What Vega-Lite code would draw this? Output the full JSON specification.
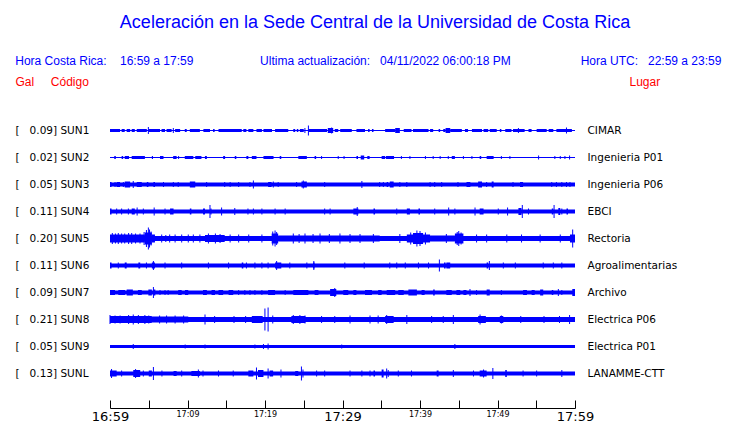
{
  "$schema": "https://vega.github.io/schema/vega-lite/v6.json",
  "width": 465,
  "height": 292,
  "autosize": "none",
  "padding": {"left": 110, "top": 116, "right": 165, "bottom": 15},
  "background": "white",
  "config": {"view": {"stroke": null}, "font": "Liberation Sans"},
  "title": {
    "text": "Aceleración en la Sede Central de la Universidad de Costa Rica",
    "subtitle": "Hora Costa Rica:\u00a0\u00a0\u00a0\u00a016:59 a 17:59\u00a0\u00a0\u00a0\u00a0\u00a0\u00a0\u00a0\u00a0\u00a0\u00a0\u00a0\u00a0\u00a0\u00a0\u00a0\u00a0\u00a0\u00a0\u00a0\u00a0Ultima actualización:\u00a0\u00a0\u00a004/11/2022 06:00:18 PM\u00a0\u00a0\u00a0\u00a0\u00a0\u00a0\u00a0\u00a0\u00a0\u00a0\u00a0\u00a0\u00a0\u00a0\u00a0\u00a0\u00a0\u00a0\u00a0\u00a0\u00a0Hora UTC:\u00a0\u00a0\u00a022:59 a 23:59\u00a0\u00a0\u00a0\u00a0\u200b",
    "anchor": "middle",
    "frame": "group",
    "dx": 32.5,
    "font": "Liberation Sans",
    "fontSize": 18,
    "fontWeight": "normal",
    "color": "#0000ff",
    "subtitleFont": "Liberation Sans",
    "subtitleFontSize": 12,
    "subtitleColor": "#0000ff",
    "subtitlePadding": 24,
    "offset": 8
  },
  "datasets": {
    "st": [
      {"s": "SUN1", "gal": 0.09, "label": "[\u00a0\u00a0\u00a00.09]\u00a0SUN1", "lugar": "CIMAR"},
      {"s": "SUN2", "gal": 0.02, "label": "[\u00a0\u00a0\u00a00.02]\u00a0SUN2", "lugar": "Ingenieria P01"},
      {"s": "SUN3", "gal": 0.05, "label": "[\u00a0\u00a0\u00a00.05]\u00a0SUN3", "lugar": "Ingenieria P06"},
      {"s": "SUN4", "gal": 0.11, "label": "[\u00a0\u00a0\u00a00.11]\u00a0SUN4", "lugar": "EBCI"},
      {"s": "SUN5", "gal": 0.20, "label": "[\u00a0\u00a0\u00a00.20]\u00a0SUN5", "lugar": "Rectoria"},
      {"s": "SUN6", "gal": 0.11, "label": "[\u00a0\u00a0\u00a00.11]\u00a0SUN6", "lugar": "Agroalimentarias"},
      {"s": "SUN7", "gal": 0.09, "label": "[\u00a0\u00a0\u00a00.09]\u00a0SUN7", "lugar": "Archivo"},
      {"s": "SUN8", "gal": 0.21, "label": "[\u00a0\u00a0\u00a00.21]\u00a0SUN8", "lugar": "Electrica P06"},
      {"s": "SUN9", "gal": 0.05, "label": "[\u00a0\u00a0\u00a00.05]\u00a0SUN9", "lugar": "Electrica P01"},
      {"s": "SUNL", "gal": 0.13, "label": "[\u00a0\u00a0\u00a00.13]\u00a0SUNL", "lugar": "LANAMME-CTT"}
    ],
    "seg": [
      {"s":"SUN1","a":0,"b":60,"h":1},
      {"s":"SUN1","a":0,"b":1.3,"h":3},{"s":"SUN1","a":1.5,"b":1.9,"h":3},{"s":"SUN1","a":2.15,"b":2.6,"h":3},{"s":"SUN1","a":2.8,"b":3.2,"h":3},{"s":"SUN1","a":3.45,"b":4.75,"h":3},{"s":"SUN1","a":4.95,"b":6.45,"h":3},{"s":"SUN1","a":6.65,"b":7.1,"h":3},{"s":"SUN1","a":7.3,"b":7.95,"h":3},{"s":"SUN1","a":8.4,"b":9.05,"h":3},{"s":"SUN1","a":9.65,"b":9.9,"h":3},{"s":"SUN1","a":10.3,"b":11.6,"h":3},{"s":"SUN1","a":12.05,"b":12.9,"h":3},{"s":"SUN1","a":13.3,"b":13.5,"h":3},{"s":"SUN1","a":14.0,"b":17.0,"h":3},{"s":"SUN1","a":17.2,"b":17.6,"h":3},{"s":"SUN1","a":17.85,"b":18.5,"h":3},{"s":"SUN1","a":18.9,"b":19.6,"h":3},{"s":"SUN1","a":19.8,"b":20.9,"h":3},{"s":"SUN1","a":21.3,"b":23.0,"h":3},{"s":"SUN1","a":23.65,"b":23.9,"h":3},{"s":"SUN1","a":24.1,"b":24.3,"h":3},{"s":"SUN1","a":24.5,"b":25.0,"h":3},{"s":"SUN1","a":25.6,"b":28.0,"h":3},{"s":"SUN1","a":28.1,"b":28.8,"h":5},{"s":"SUN1","a":29.0,"b":29.45,"h":3},{"s":"SUN1","a":29.7,"b":31.2,"h":3},{"s":"SUN1","a":31.8,"b":32.9,"h":3},{"s":"SUN1","a":33.3,"b":33.5,"h":3},{"s":"SUN1","a":33.8,"b":34.0,"h":3},{"s":"SUN1","a":35.5,"b":36.8,"h":3},{"s":"SUN1","a":36.8,"b":37.4,"h":5},{"s":"SUN1","a":37.9,"b":38.9,"h":3},{"s":"SUN1","a":39.1,"b":41.1,"h":3},{"s":"SUN1","a":41.3,"b":41.7,"h":3},{"s":"SUN1","a":42.4,"b":42.6,"h":3},{"s":"SUN1","a":43.0,"b":43.3,"h":3},{"s":"SUN1","a":43.3,"b":43.9,"h":5},{"s":"SUN1","a":43.9,"b":45.4,"h":3},{"s":"SUN1","a":45.8,"b":46.2,"h":3},{"s":"SUN1","a":46.7,"b":48.0,"h":3},{"s":"SUN1","a":48.2,"b":48.8,"h":3},{"s":"SUN1","a":49.0,"b":49.9,"h":3},{"s":"SUN1","a":50.3,"b":50.5,"h":3},{"s":"SUN1","a":51.0,"b":51.8,"h":3},{"s":"SUN1","a":52.0,"b":53.5,"h":3},{"s":"SUN1","a":54.0,"b":54.4,"h":3},{"s":"SUN1","a":55.05,"b":56.35,"h":3},{"s":"SUN1","a":56.6,"b":57.2,"h":3},{"s":"SUN1","a":57.6,"b":59.6,"h":3},
      {"s":"SUN2","a":0,"b":60,"h":1},
      {"s":"SUN2","a":0.55,"b":0.75,"h":3},{"s":"SUN2","a":1.5,"b":1.7,"h":3},{"s":"SUN2","a":1.9,"b":2.45,"h":3},{"s":"SUN2","a":2.8,"b":4.5,"h":3},{"s":"SUN2","a":5.4,"b":5.55,"h":3},{"s":"SUN2","a":6.45,"b":6.9,"h":3},{"s":"SUN2","a":8.15,"b":8.6,"h":3},{"s":"SUN2","a":9.65,"b":10.75,"h":3},{"s":"SUN2","a":11.0,"b":11.8,"h":3},{"s":"SUN2","a":12.25,"b":12.5,"h":3},{"s":"SUN2","a":14.6,"b":14.85,"h":3},{"s":"SUN2","a":16.1,"b":16.3,"h":3},{"s":"SUN2","a":17.6,"b":17.85,"h":3},{"s":"SUN2","a":18.3,"b":18.9,"h":3},{"s":"SUN2","a":19.8,"b":21.1,"h":3},{"s":"SUN2","a":21.9,"b":22.1,"h":3},{"s":"SUN2","a":24.3,"b":25.4,"h":3},{"s":"SUN2","a":26.4,"b":26.6,"h":3},{"s":"SUN2","a":31.8,"b":32.0,"h":3},{"s":"SUN2","a":32.35,"b":32.8,"h":4},{"s":"SUN2","a":33.2,"b":33.5,"h":3},{"s":"SUN2","a":35.05,"b":35.5,"h":3},{"s":"SUN2","a":35.6,"b":36.65,"h":3},{"s":"SUN2","a":44.1,"b":44.5,"h":3},{"s":"SUN2","a":47.7,"b":47.9,"h":3},{"s":"SUN2","a":48.6,"b":49.5,"h":3},
      {"s":"SUN3","a":0,"b":60,"h":4},
      {"s":"SUN3","a":0,"b":0.2,"h":5},{"s":"SUN3","a":0.85,"b":1.3,"h":5},{"s":"SUN3","a":1.9,"b":2.6,"h":6},{"s":"SUN3","a":3.45,"b":4.1,"h":5},{"s":"SUN3","a":4.75,"b":4.95,"h":5},{"s":"SUN3","a":5.6,"b":5.8,"h":5},{"s":"SUN3","a":10.3,"b":11.0,"h":6},{"s":"SUN3","a":20.4,"b":20.85,"h":5},{"s":"SUN3","a":24.7,"b":25.4,"h":6},{"s":"SUN3","a":35.7,"b":35.9,"h":5},{"s":"SUN3","a":36.1,"b":36.6,"h":6},{"s":"SUN3","a":46.0,"b":46.5,"h":5},{"s":"SUN3","a":47.5,"b":48.0,"h":6},{"s":"SUN3","a":49.25,"b":49.5,"h":6},{"s":"SUN3","a":52.9,"b":53.3,"h":5},
      {"s":"SUN4","a":0,"b":60,"h":4},
      {"s":"SUN4","a":0,"b":0.2,"h":6},{"s":"SUN4","a":2.8,"b":3.2,"h":6},{"s":"SUN4","a":7.75,"b":8.2,"h":6},{"s":"SUN4","a":10.3,"b":10.5,"h":6},{"s":"SUN4","a":12.0,"b":12.26,"h":6},{"s":"SUN4","a":12.95,"b":13.1,"h":6},{"s":"SUN4","a":31.4,"b":32.05,"h":6},{"s":"SUN4","a":34.0,"b":34.2,"h":6},{"s":"SUN4","a":38.3,"b":38.7,"h":6},{"s":"SUN4","a":39.8,"b":40.0,"h":6},{"s":"SUN4","a":47.7,"b":48.2,"h":6},{"s":"SUN4","a":52.7,"b":53.1,"h":7},{"s":"SUN4","a":57.0,"b":57.2,"h":6},{"s":"SUN4","a":57.85,"b":58.1,"h":7},{"s":"SUN4","a":58.9,"b":59.1,"h":6},
      {"s":"SUN5","a":0,"b":60,"h":5},
      {"s":"SUN5","a":0,"b":4.5,"h":8},{"s":"SUN5","a":4.5,"b":5.4,"h":12},{"s":"SUN5","a":5.4,"b":5.8,"h":8},{"s":"SUN5","a":12.26,"b":14.8,"h":7},{"s":"SUN5","a":20.86,"b":21.7,"h":10},{"s":"SUN5","a":21.7,"b":34.8,"h":6},{"s":"SUN5","a":38.3,"b":41.3,"h":8},{"s":"SUN5","a":39.1,"b":40.4,"h":11},{"s":"SUN5","a":41.3,"b":44.5,"h":6},{"s":"SUN5","a":44.5,"b":45.6,"h":10},{"s":"SUN5","a":59.35,"b":60,"h":8},
      {"s":"SUN6","a":0,"b":60,"h":4},
      {"s":"SUN6","a":0,"b":0.2,"h":6},{"s":"SUN6","a":1.9,"b":2.15,"h":6},{"s":"SUN6","a":3.66,"b":3.9,"h":6},{"s":"SUN6","a":5.4,"b":5.8,"h":6},{"s":"SUN6","a":17.0,"b":17.2,"h":6},{"s":"SUN6","a":21.3,"b":22.1,"h":6},{"s":"SUN6","a":26.2,"b":26.4,"h":6},{"s":"SUN6","a":43.1,"b":43.3,"h":6},{"s":"SUN6","a":43.4,"b":43.9,"h":6},{"s":"SUN6","a":48.6,"b":48.8,"h":6},
      {"s":"SUN7","a":0,"b":60,"h":4},
      {"s":"SUN7","a":0,"b":0.65,"h":5},{"s":"SUN7","a":1.07,"b":1.95,"h":5},{"s":"SUN7","a":2.15,"b":2.95,"h":6},{"s":"SUN7","a":3.6,"b":4.1,"h":5},{"s":"SUN7","a":4.95,"b":5.4,"h":6},{"s":"SUN7","a":5.6,"b":5.85,"h":6},{"s":"SUN7","a":8.8,"b":9.25,"h":5},{"s":"SUN7","a":9.67,"b":10.1,"h":5},{"s":"SUN7","a":12.0,"b":12.5,"h":5},{"s":"SUN7","a":13.1,"b":13.55,"h":5},{"s":"SUN7","a":14.0,"b":14.6,"h":5},{"s":"SUN7","a":15.3,"b":15.9,"h":5},{"s":"SUN7","a":20.4,"b":21.3,"h":5},{"s":"SUN7","a":23.65,"b":25.6,"h":5},{"s":"SUN7","a":26.4,"b":26.9,"h":5},{"s":"SUN7","a":28.4,"b":29.2,"h":7},{"s":"SUN7","a":30.1,"b":30.75,"h":5},{"s":"SUN7","a":31.4,"b":31.8,"h":5},{"s":"SUN7","a":32.9,"b":33.8,"h":5},{"s":"SUN7","a":34.6,"b":35.05,"h":5},{"s":"SUN7","a":35.7,"b":36.8,"h":5},{"s":"SUN7","a":37.2,"b":37.9,"h":5},{"s":"SUN7","a":38.5,"b":39.6,"h":6},{"s":"SUN7","a":40.2,"b":40.6,"h":5},{"s":"SUN7","a":41.7,"b":41.9,"h":6},{"s":"SUN7","a":43.4,"b":44.1,"h":5},{"s":"SUN7","a":44.7,"b":45.2,"h":5},{"s":"SUN7","a":45.6,"b":46.0,"h":5},{"s":"SUN7","a":48.6,"b":49.0,"h":6},{"s":"SUN7","a":53.3,"b":53.8,"h":5},{"s":"SUN7","a":54.4,"b":54.8,"h":5},{"s":"SUN7","a":55.5,"b":55.9,"h":6},{"s":"SUN7","a":57.0,"b":57.2,"h":5},{"s":"SUN7","a":59.65,"b":60,"h":7},
      {"s":"SUN8","a":0,"b":60,"h":5},
      {"s":"SUN8","a":0,"b":5.4,"h":7},{"s":"SUN8","a":5.4,"b":10.1,"h":6},{"s":"SUN8","a":18.3,"b":19.7,"h":7},{"s":"SUN8","a":23.4,"b":25.2,"h":7},{"s":"SUN8","a":35.5,"b":36.6,"h":7},{"s":"SUN8","a":47.5,"b":48.5,"h":7},{"s":"SUN8","a":50.3,"b":50.75,"h":7},
      {"s":"SUN9","a":0,"b":60,"h":3},
      {"s":"SUNL","a":0,"b":60,"h":4},
      {"s":"SUNL","a":0,"b":0.86,"h":6},{"s":"SUNL","a":3.0,"b":3.9,"h":7},{"s":"SUNL","a":5.0,"b":5.4,"h":6},{"s":"SUNL","a":8.2,"b":8.6,"h":5},{"s":"SUNL","a":10.5,"b":11.6,"h":5},{"s":"SUNL","a":17.85,"b":18.5,"h":6},{"s":"SUNL","a":19.1,"b":19.8,"h":7},{"s":"SUNL","a":20.6,"b":21.05,"h":6},{"s":"SUNL","a":23.9,"b":24.3,"h":5},{"s":"SUNL","a":34.0,"b":34.2,"h":6},{"s":"SUNL","a":35.05,"b":35.3,"h":8},{"s":"SUNL","a":42.15,"b":42.4,"h":6},{"s":"SUNL","a":47.7,"b":48.6,"h":6},{"s":"SUNL","a":51.0,"b":51.2,"h":7}
    ],
    "spk": [
      {"s":"SUN1","t":4.95,"h":7},{"s":"SUN1","t":8.17,"h":5},{"s":"SUN1","t":25.15,"h":5},{"s":"SUN1","t":25.6,"h":10},{"s":"SUN1","t":28.6,"h":6},{"s":"SUN1","t":52.7,"h":5},{"s":"SUN1","t":58.9,"h":6},
      {"s":"SUN2","t":8.85,"h":3},{"s":"SUN2","t":27.3,"h":3},{"s":"SUN2","t":29.45,"h":3},{"s":"SUN2","t":30.2,"h":3},{"s":"SUN2","t":37.6,"h":3},{"s":"SUN2","t":38.7,"h":3},{"s":"SUN2","t":40.7,"h":3},{"s":"SUN2","t":41.7,"h":3},{"s":"SUN2","t":42.6,"h":3},{"s":"SUN2","t":43.65,"h":3},{"s":"SUN2","t":45.6,"h":3},{"s":"SUN2","t":46.7,"h":3},{"s":"SUN2","t":50.5,"h":3},{"s":"SUN2","t":51.6,"h":3},{"s":"SUN2","t":55.3,"h":4},{"s":"SUN2","t":57.4,"h":3},{"s":"SUN2","t":58.1,"h":3},{"s":"SUN2","t":58.7,"h":3},{"s":"SUN2","t":59.3,"h":4},
      {"s":"SUN3","t":0.65,"h":5},{"s":"SUN3","t":1.72,"h":5},{"s":"SUN3","t":3.0,"h":7},{"s":"SUN3","t":6.9,"h":5},{"s":"SUN3","t":8.17,"h":5},{"s":"SUN3","t":8.8,"h":5},{"s":"SUN3","t":12.47,"h":5},{"s":"SUN3","t":14.8,"h":5},{"s":"SUN3","t":15.5,"h":5},{"s":"SUN3","t":16.6,"h":5},{"s":"SUN3","t":18.06,"h":5},{"s":"SUN3","t":18.5,"h":8},{"s":"SUN3","t":21.07,"h":6},{"s":"SUN3","t":21.7,"h":5},{"s":"SUN3","t":24.08,"h":5},{"s":"SUN3","t":24.94,"h":8},{"s":"SUN3","t":27.7,"h":5},{"s":"SUN3","t":32.5,"h":7},{"s":"SUN3","t":34.8,"h":5},{"s":"SUN3","t":35.27,"h":5},{"s":"SUN3","t":37.4,"h":5},{"s":"SUN3","t":38.3,"h":5},{"s":"SUN3","t":41.3,"h":5},{"s":"SUN3","t":41.9,"h":5},{"s":"SUN3","t":42.8,"h":5},{"s":"SUN3","t":44.9,"h":5},{"s":"SUN3","t":48.6,"h":5},{"s":"SUN3","t":52.0,"h":5},{"s":"SUN3","t":57.0,"h":5},{"s":"SUN3","t":57.6,"h":5},{"s":"SUN3","t":58.3,"h":5},{"s":"SUN3","t":58.9,"h":5},{"s":"SUN3","t":59.35,"h":5},
      {"s":"SUN4","t":0.86,"h":6},{"s":"SUN4","t":1.5,"h":6},{"s":"SUN4","t":2.37,"h":6},{"s":"SUN4","t":3.5,"h":8},{"s":"SUN4","t":4.3,"h":6},{"s":"SUN4","t":5.7,"h":8},{"s":"SUN4","t":7.1,"h":6},{"s":"SUN4","t":12.9,"h":13},{"s":"SUN4","t":14.4,"h":8},{"s":"SUN4","t":16.1,"h":7},{"s":"SUN4","t":17.8,"h":6},{"s":"SUN4","t":18.5,"h":6},{"s":"SUN4","t":19.6,"h":6},{"s":"SUN4","t":21.3,"h":6},{"s":"SUN4","t":22.6,"h":6},{"s":"SUN4","t":27.7,"h":6},{"s":"SUN4","t":28.4,"h":6},{"s":"SUN4","t":31.9,"h":9},{"s":"SUN4","t":37.0,"h":6},{"s":"SUN4","t":41.9,"h":6},{"s":"SUN4","t":43.7,"h":8},{"s":"SUN4","t":44.5,"h":6},{"s":"SUN4","t":47.1,"h":8},{"s":"SUN4","t":50.1,"h":6},{"s":"SUN4","t":51.3,"h":8},{"s":"SUN4","t":53.2,"h":13},{"s":"SUN4","t":54.0,"h":6},{"s":"SUN4","t":57.3,"h":13},{"s":"SUN4","t":58.3,"h":6},
      {"s":"SUN5","t":0.3,"h":11},{"s":"SUN5","t":0.7,"h":10},{"s":"SUN5","t":1.07,"h":11},{"s":"SUN5","t":1.5,"h":10},{"s":"SUN5","t":1.9,"h":10},{"s":"SUN5","t":2.4,"h":11},{"s":"SUN5","t":2.8,"h":11},{"s":"SUN5","t":3.3,"h":10},{"s":"SUN5","t":3.87,"h":10},{"s":"SUN5","t":4.4,"h":13},{"s":"SUN5","t":4.7,"h":17},{"s":"SUN5","t":4.95,"h":22},{"s":"SUN5","t":5.1,"h":18},{"s":"SUN5","t":5.3,"h":14},{"s":"SUN5","t":6.67,"h":8},{"s":"SUN5","t":7.2,"h":7},{"s":"SUN5","t":7.7,"h":8},{"s":"SUN5","t":8.4,"h":8},{"s":"SUN5","t":9.25,"h":8},{"s":"SUN5","t":10.1,"h":8},{"s":"SUN5","t":10.75,"h":8},{"s":"SUN5","t":11.6,"h":8},{"s":"SUN5","t":12.7,"h":10},{"s":"SUN5","t":13.6,"h":10},{"s":"SUN5","t":14.2,"h":9},{"s":"SUN5","t":15.5,"h":8},{"s":"SUN5","t":16.6,"h":8},{"s":"SUN5","t":17.9,"h":8},{"s":"SUN5","t":19.6,"h":8},{"s":"SUN5","t":21.0,"h":14},{"s":"SUN5","t":21.3,"h":16},{"s":"SUN5","t":21.5,"h":13},{"s":"SUN5","t":23.65,"h":10},{"s":"SUN5","t":24.4,"h":9},{"s":"SUN5","t":25.16,"h":10},{"s":"SUN5","t":26.2,"h":9},{"s":"SUN5","t":27.1,"h":10},{"s":"SUN5","t":28.3,"h":9},{"s":"SUN5","t":29.67,"h":10},{"s":"SUN5","t":30.97,"h":9},{"s":"SUN5","t":32.26,"h":9},{"s":"SUN5","t":33.98,"h":9},{"s":"SUN5","t":37.4,"h":9},{"s":"SUN5","t":38.8,"h":12},{"s":"SUN5","t":39.6,"h":16},{"s":"SUN5","t":40.0,"h":15},{"s":"SUN5","t":40.7,"h":12},{"s":"SUN5","t":43.4,"h":9},{"s":"SUN5","t":44.8,"h":13},{"s":"SUN5","t":45.0,"h":15},{"s":"SUN5","t":45.3,"h":12},{"s":"SUN5","t":47.3,"h":8},{"s":"SUN5","t":48.6,"h":8},{"s":"SUN5","t":51.2,"h":8},{"s":"SUN5","t":53.1,"h":8},{"s":"SUN5","t":55.5,"h":8},{"s":"SUN5","t":58.1,"h":8},{"s":"SUN5","t":59.7,"h":18},
      {"s":"SUN6","t":1.07,"h":6},{"s":"SUN6","t":4.7,"h":6},{"s":"SUN6","t":5.6,"h":9},{"s":"SUN6","t":7.1,"h":6},{"s":"SUN6","t":9.25,"h":6},{"s":"SUN6","t":12.7,"h":6},{"s":"SUN6","t":15.3,"h":6},{"s":"SUN6","t":17.6,"h":6},{"s":"SUN6","t":18.7,"h":6},{"s":"SUN6","t":19.6,"h":6},{"s":"SUN6","t":20.4,"h":6},{"s":"SUN6","t":21.5,"h":9},{"s":"SUN6","t":23.2,"h":6},{"s":"SUN6","t":25.4,"h":6},{"s":"SUN6","t":26.3,"h":9},{"s":"SUN6","t":30.3,"h":6},{"s":"SUN6","t":32.8,"h":6},{"s":"SUN6","t":36.1,"h":6},{"s":"SUN6","t":37.0,"h":6},{"s":"SUN6","t":38.1,"h":6},{"s":"SUN6","t":39.8,"h":6},{"s":"SUN6","t":41.1,"h":6},{"s":"SUN6","t":42.5,"h":12},{"s":"SUN6","t":48.95,"h":9},{"s":"SUN6","t":50.75,"h":6},{"s":"SUN6","t":52.3,"h":6},{"s":"SUN6","t":55.9,"h":6},{"s":"SUN6","t":57.2,"h":6},{"s":"SUN6","t":58.3,"h":6},
      {"s":"SUN7","t":5.6,"h":11},{"s":"SUN7","t":6.45,"h":5},{"s":"SUN7","t":7.1,"h":5},{"s":"SUN7","t":7.5,"h":5},{"s":"SUN7","t":16.6,"h":5},{"s":"SUN7","t":17.4,"h":5},{"s":"SUN7","t":18.06,"h":5},{"s":"SUN7","t":18.7,"h":5},{"s":"SUN7","t":19.6,"h":5},{"s":"SUN7","t":22.6,"h":5},{"s":"SUN7","t":29.0,"h":9},{"s":"SUN7","t":46.45,"h":7},{"s":"SUN7","t":47.3,"h":5},{"s":"SUN7","t":50.5,"h":5},{"s":"SUN7","t":57.85,"h":7},{"s":"SUN7","t":58.3,"h":5},
      {"s":"SUN8","t":0.0,"h":9},{"s":"SUN8","t":0.65,"h":8},{"s":"SUN8","t":1.3,"h":8},{"s":"SUN8","t":2.4,"h":9},{"s":"SUN8","t":3.0,"h":10},{"s":"SUN8","t":3.66,"h":9},{"s":"SUN8","t":4.5,"h":9},{"s":"SUN8","t":5.0,"h":8},{"s":"SUN8","t":6.4,"h":8},{"s":"SUN8","t":7.3,"h":8},{"s":"SUN8","t":8.4,"h":8},{"s":"SUN8","t":9.5,"h":8},{"s":"SUN8","t":12.26,"h":10},{"s":"SUN8","t":13.5,"h":7},{"s":"SUN8","t":16.0,"h":7},{"s":"SUN8","t":17.5,"h":7},{"s":"SUN8","t":19.99,"h":22},{"s":"SUN8","t":20.4,"h":24},{"s":"SUN8","t":21.0,"h":8},{"s":"SUN8","t":23.65,"h":9},{"s":"SUN8","t":24.5,"h":9},{"s":"SUN8","t":25.16,"h":8},{"s":"SUN8","t":27.3,"h":7},{"s":"SUN8","t":29.0,"h":7},{"s":"SUN8","t":30.97,"h":8},{"s":"SUN8","t":33.55,"h":8},{"s":"SUN8","t":34.6,"h":8},{"s":"SUN8","t":35.7,"h":9},{"s":"SUN8","t":38.3,"h":9},{"s":"SUN8","t":41.5,"h":7},{"s":"SUN8","t":43.0,"h":7},{"s":"SUN8","t":44.3,"h":9},{"s":"SUN8","t":47.75,"h":10},{"s":"SUN8","t":50.5,"h":8},{"s":"SUN8","t":53.0,"h":7},{"s":"SUN8","t":56.0,"h":7},{"s":"SUN8","t":58.0,"h":7},{"s":"SUN8","t":59.3,"h":9},
      {"s":"SUN9","t":3.0,"h":5},{"s":"SUN9","t":9.7,"h":4},{"s":"SUN9","t":12.26,"h":4},{"s":"SUN9","t":18.7,"h":4},{"s":"SUN9","t":19.8,"h":5},{"s":"SUN9","t":20.4,"h":6},{"s":"SUN9","t":29.9,"h":4},{"s":"SUN9","t":44.5,"h":5},
      {"s":"SUNL","t":0.2,"h":9},{"s":"SUNL","t":1.5,"h":6},{"s":"SUNL","t":3.3,"h":9},{"s":"SUNL","t":4.3,"h":6},{"s":"SUNL","t":5.6,"h":13},{"s":"SUNL","t":6.7,"h":6},{"s":"SUNL","t":9.25,"h":6},{"s":"SUNL","t":11.4,"h":8},{"s":"SUNL","t":12.0,"h":6},{"s":"SUNL","t":14.0,"h":6},{"s":"SUNL","t":15.9,"h":6},{"s":"SUNL","t":18.9,"h":12},{"s":"SUNL","t":20.4,"h":10},{"s":"SUNL","t":22.06,"h":8},{"s":"SUNL","t":24.7,"h":14},{"s":"SUNL","t":24.9,"h":8},{"s":"SUNL","t":26.66,"h":6},{"s":"SUNL","t":27.7,"h":6},{"s":"SUNL","t":30.97,"h":6},{"s":"SUNL","t":32.5,"h":6},{"s":"SUNL","t":33.55,"h":6},{"s":"SUNL","t":35.7,"h":10},{"s":"SUNL","t":35.9,"h":7},{"s":"SUNL","t":37.2,"h":6},{"s":"SUNL","t":38.9,"h":6},{"s":"SUNL","t":44.3,"h":7},{"s":"SUNL","t":46.9,"h":6},{"s":"SUNL","t":48.2,"h":8},{"s":"SUNL","t":49.4,"h":11},{"s":"SUNL","t":53.3,"h":6},{"s":"SUNL","t":55.05,"h":6},{"s":"SUNL","t":58.3,"h":7}
    ]
  },
  "layer": [
    {
      "layer": [
        {
          "data": {"name": "seg"},
          "mark": {"type": "bar", "color": "#0000ff", "opacity": 1, "orient": "horizontal"},
          "encoding": {
            "x": {"field": "a", "type": "quantitative"},
            "x2": {"field": "b"},
            "y": {"field": "s", "type": "nominal"},
            "size": {"field": "h", "type": "quantitative"}
          }
        },
        {
          "data": {"name": "spk"},
          "mark": {"type": "tick", "color": "#0000ff", "opacity": 1, "thickness": 1, "orient": "vertical"},
          "encoding": {
            "x": {"field": "t", "type": "quantitative"},
            "y": {"field": "s", "type": "nominal"},
            "size": {"field": "h", "type": "quantitative"}
          }
        }
      ],
      "encoding": {
        "x": {
          "type": "quantitative",
          "scale": {"domain": [0, 60], "nice": false, "zero": false},
          "axis": {
            "values": [0, 5, 10, 15, 20, 25, 30, 35, 40, 45, 50, 55, 60],
            "labelExpr": "datum.value % 10 ? '' : (datum.value == 0 ? '16:59' : '17:' + format(datum.value - 1, '02d'))",
            "title": null,
            "grid": false,
            "tickSize": -8,
            "tickColor": "black",
            "domainColor": "black",
            "labelColor": "black",
            "labelFont": "DejaVu Sans",
            "labelFontSize": {"condition": {"test": "datum.value % 30 == 0", "value": 13}, "value": 8},
            "labelBaseline": "top",
            "labelPadding": 10,
            "labelFlush": false,
            "labelOverlap": false,
            "labelBound": false
          }
        },
        "y": {
          "type": "nominal",
          "scale": {"type": "point", "padding": 0.9074, "align": 0.2959, "round": false},
          "axis": null
        },
        "size": {
          "type": "quantitative",
          "scale": {"type": "linear", "domain": [0, 30], "range": [0, 30], "zero": true},
          "legend": null
        }
      }
    },
    {
      "data": {"name": "st"},
      "mark": {"type": "rule", "opacity": 0},
      "encoding": {
        "y": {
          "field": "label",
          "type": "nominal",
          "sort": null,
          "scale": {"type": "point", "padding": 0.9074, "align": 0.2959, "round": false},
          "axis": {
            "orient": "left",
            "domain": false,
            "ticks": false,
            "tickSize": 0,
            "labelAlign": "left",
            "labelPadding": 95,
            "labelFont": "DejaVu Sans",
            "labelFontSize": 10.5,
            "labelColor": "black",
            "labelLimit": 0,
            "title": "Gal\u00a0\u00a0\u00a0\u00a0\u00a0Código",
            "titleAngle": 0,
            "titleAlign": "left",
            "titleBaseline": "alphabetic",
            "titleX": -95,
            "titleY": -31,
            "titleFont": "Liberation Sans",
            "titleFontSize": 12,
            "titleFontWeight": "normal",
            "titleColor": "#ff0000"
          }
        }
      }
    },
    {
      "data": {"name": "st"},
      "mark": {"type": "rule", "opacity": 0},
      "encoding": {
        "y": {
          "field": "lugar",
          "type": "nominal",
          "sort": null,
          "scale": {"type": "point", "padding": 0.9074, "align": 0.2959, "round": false},
          "axis": {
            "orient": "right",
            "domain": false,
            "ticks": false,
            "tickSize": 0,
            "labelAlign": "left",
            "labelPadding": 12,
            "labelFont": "DejaVu Sans",
            "labelFontSize": 10.5,
            "labelColor": "black",
            "labelLimit": 0,
            "title": "Lugar",
            "titleAngle": 0,
            "titleAlign": "left",
            "titleBaseline": "alphabetic",
            "titleX": 54,
            "titleY": -31,
            "titleFont": "Liberation Sans",
            "titleFontSize": 12,
            "titleFontWeight": "normal",
            "titleColor": "#ff0000"
          }
        }
      }
    }
  ],
  "resolve": {"scale": {"y": "independent"}}
}
